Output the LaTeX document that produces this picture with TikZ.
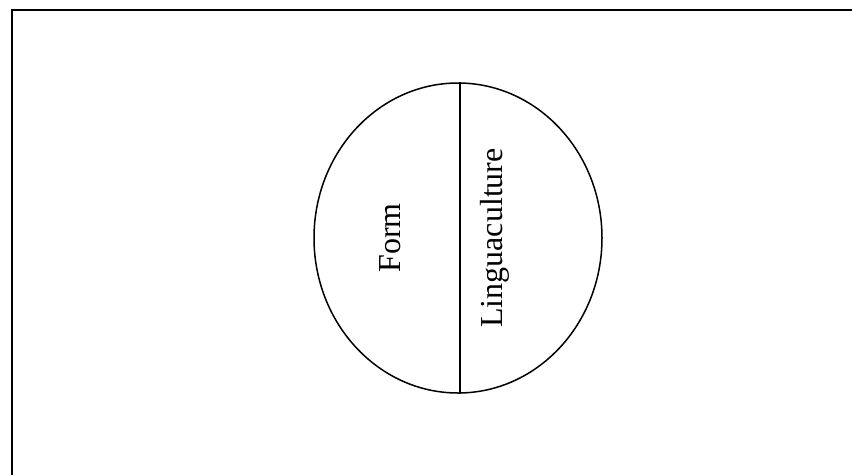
\documentclass[tikz,border=0pt]{standalone}
\usepackage{fontspec}
\setmainfont{Liberation Serif}
\usetikzlibrary{shapes.geometric}

\begin{document}
\begin{tikzpicture}[x=1pt, y=-1pt, font=\rmfamily\fontsize{32}{38}\selectfont,
  oval/.style={draw, ellipse, line width=1.5pt, inner sep=0pt, minimum width=288pt, minimum height=310pt},
  rottext/.style={rotate=90, inner sep=0pt}]
\useasboundingbox (0,0) rectangle (852,475);
\coordinate (frameBL) at (12,475);
\coordinate (frameTL) at (12,10);
\coordinate (frameTR) at (852,10);
\draw[line width=2.5pt] (frameBL) -- (frameTL) -- (frameTR);
\node[oval] (circle) at (458,238) {};
\draw[line width=1.5pt] (circle.north -| 460,0) -- (circle.south -| 460,0);
\node[rottext] (form) at (390,238) {Form};
\node[rottext] (lingua) at (495,238) {Linguaculture};
\end{tikzpicture}
\end{document}
